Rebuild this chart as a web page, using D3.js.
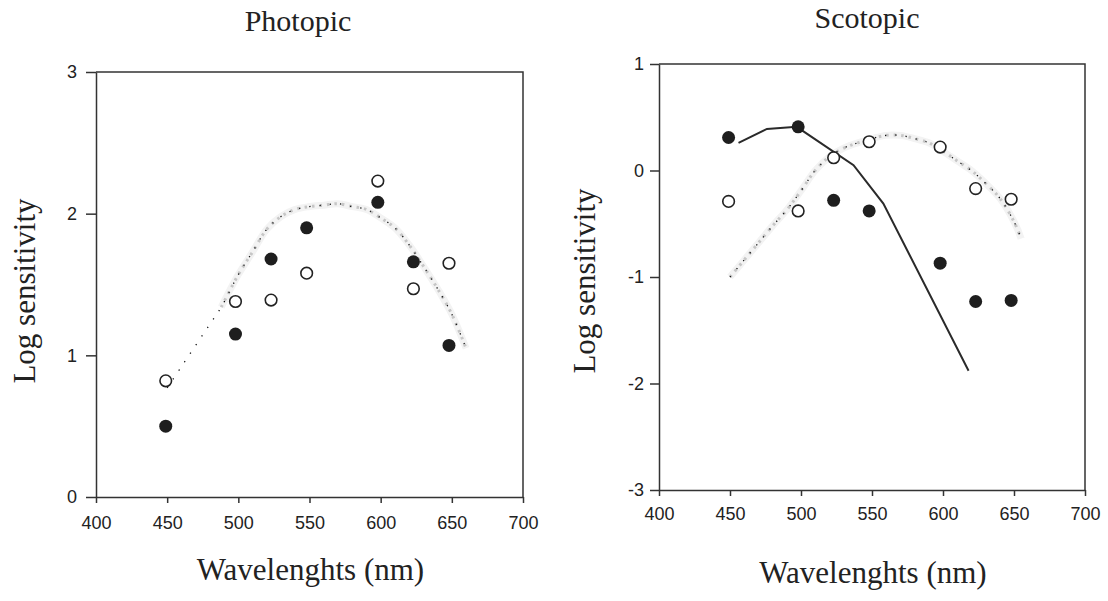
<!DOCTYPE html>
<html>
<head>
<meta charset="utf-8">
<script src="https://cdn.jsdelivr.net/npm/d3@7"></script>
<style>
  body { margin: 0; background: #fff; }
  .tick text { font-family: "Liberation Sans", Arial, sans-serif; font-size: 18px; fill: #222; }
  .tick line, .domain { stroke: #333; stroke-width: 1.5; }
  .serif { font-family: "Liberation Serif", "Times New Roman", serif; fill: #222; }
</style>
</head>
<body>
<svg id="chart" width="1108" height="601"></svg>
<script>
// measured wavelengths (nm) of the test points
var wavelengths = [449, 498, 523, 548, 598, 623, 648];

// photopic panel
var photopicFilled = [0.50, 1.15, 1.68, 1.90, 2.08, 1.66, 1.07];
var photopicOpen   = [0.82, 1.38, 1.39, 1.58, 2.23, 1.47, 1.65];
var photopicCurveNm = [450, 460, 470, 480, 488, 500, 510, 520, 530, 540, 550, 560, 570, 580, 590, 600, 610, 620, 630, 640, 650, 660];
var photopicCurve   = [0.77, 0.92, 1.07, 1.22, 1.34, 1.57, 1.73, 1.89, 1.98, 2.03, 2.05, 2.06, 2.07, 2.05, 2.03, 1.97, 1.90, 1.78, 1.63, 1.47, 1.29, 1.05];

// scotopic panel
var scotopicFilled = [0.31, 0.41, -0.28, -0.38, -0.87, -1.23, -1.22];
var scotopicOpen   = [-0.29, -0.38, 0.12, 0.27, 0.22, -0.17, -0.27];
var scotopicCurveNm = [450, 460, 470, 480, 490, 500, 510, 520, 530, 540, 550, 560, 570, 580, 590, 600, 610, 620, 630, 640, 650, 655];
var scotopicCurve   = [-1.00, -0.84, -0.68, -0.52, -0.37, -0.19, 0.00, 0.13, 0.21, 0.26, 0.30, 0.33, 0.33, 0.30, 0.26, 0.18, 0.09, 0.00, -0.12, -0.26, -0.48, -0.64];
var rodNm    = [456, 476, 497, 537, 558, 618];
var rodCurve = [0.26, 0.39, 0.41, 0.05, -0.31, -1.88];

var xTicks = [400, 450, 500, 550, 600, 650, 700];
var photopicTicks = [0, 1, 2, 3];
var scotopicTicks = [-3, -2, -1, 0, 1];

var svg = d3.select("#chart");

function zip(xs, ys) {
  return xs.map(function(v, i) { return [v, ys[i]]; });
}

function drawPanel(opt) {
  var x = d3.scaleLinear().domain([400, 700]).range(opt.xr);
  var y = d3.scaleLinear().domain(opt.yd).range(opt.yr);
  var g = svg.append("g");

  // frame: top and right sides
  g.append("path")
    .attr("d", "M" + opt.xr[0] + "," + opt.yr[1] + "H" + opt.xr[1] + "V" + opt.yr[0])
    .attr("fill", "none")
    .attr("stroke", "#333")
    .attr("stroke-width", 1.5);

  g.append("g")
    .attr("transform", "translate(0," + opt.yr[0] + ")")
    .call(d3.axisBottom(x).tickValues(xTicks).tickSize(6).tickSizeOuter(0).tickPadding(opt.xPad));

  g.append("g")
    .attr("transform", "translate(" + opt.xr[0] + ",0)")
    .call(d3.axisLeft(y).tickValues(opt.yTicks).tickSize(opt.ySize).tickSizeOuter(0).tickPadding(opt.yPad)
      .tickFormat(function(d) { return String(d); }));

  var line = d3.line()
    .x(function(d) { return x(d[0]); })
    .y(function(d) { return y(d[1]); })
    .curve(d3.curveCatmullRom);

  // grey dotted template curve
  var grey = zip(opt.curveNm, opt.curve).filter(function(d) { return d[0] >= opt.greyFrom; });
  g.append("path")
    .datum(grey)
    .attr("d", line)
    .attr("fill", "none")
    .attr("stroke", "#f3f3f3")
    .attr("stroke-width", 7);
  g.append("path")
    .datum(grey)
    .attr("d", line)
    .attr("fill", "none")
    .attr("stroke", "#c6c6c6")
    .attr("stroke-width", 3)
    .attr("stroke-dasharray", "2.5,5");
  // fine black dots on top
  g.append("path")
    .datum(zip(opt.curveNm, opt.curve))
    .attr("d", line)
    .attr("fill", "none")
    .attr("stroke", "#111")
    .attr("stroke-width", 1.3)
    .attr("stroke-dasharray", "1.3,9");

  if (opt.rod) {
    g.append("path")
      .datum(zip(rodNm, rodCurve))
      .attr("d", d3.line().x(function(d) { return x(d[0]); }).y(function(d) { return y(d[1]); }))
      .attr("fill", "none")
      .attr("stroke", "#2a2a2a")
      .attr("stroke-width", 2);
  }

  g.selectAll(".open")
    .data(zip(wavelengths, opt.open))
    .enter().append("circle")
    .attr("class", "open")
    .attr("cx", function(d) { return x(d[0]); })
    .attr("cy", function(d) { return y(d[1]); })
    .attr("r", 5.8)
    .attr("fill", "#fff")
    .attr("stroke", "#222")
    .attr("stroke-width", 1.6);

  g.selectAll(".filled")
    .data(zip(wavelengths, opt.filled))
    .enter().append("circle")
    .attr("class", "filled")
    .attr("cx", function(d) { return x(d[0]); })
    .attr("cy", function(d) { return y(d[1]); })
    .attr("r", 6.5)
    .attr("fill", "#1e1e1e");

  // texts
  g.append("text")
    .attr("class", "serif")
    .attr("x", opt.title[1]).attr("y", opt.title[2])
    .attr("text-anchor", "middle")
    .attr("font-size", "30px")
    .text(opt.title[0]);

  g.append("text")
    .attr("class", "serif")
    .attr("x", (opt.xr[0] + opt.xr[1]) / 2 + 1).attr("y", opt.xLabelY)
    .attr("text-anchor", "middle")
    .attr("font-size", "31px")
    .text("Wavelenghts (nm)");

  g.append("text")
    .attr("class", "serif")
    .attr("transform", "translate(" + opt.yLabel[0] + "," + opt.yLabel[1] + ") rotate(-90)")
    .attr("text-anchor", "middle")
    .attr("font-size", "31px")
    .text("Log sensitivity");
}

drawPanel({
  xr: [96, 523], yd: [0, 3], yr: [497, 72], yTicks: photopicTicks,
  ySize: 10, yPad: 9, xPad: 13,
  curveNm: photopicCurveNm, curve: photopicCurve, greyFrom: 488,
  filled: photopicFilled, open: photopicOpen, rod: false,
  title: ["Photopic", 298, 31], xLabelY: 580, yLabel: [35, 291]
});

drawPanel({
  xr: [659, 1085], yd: [-3, 1], yr: [490, 64], yTicks: scotopicTicks,
  ySize: 9, yPad: 6, xPad: 11,
  curveNm: scotopicCurveNm, curve: scotopicCurve, greyFrom: 450,
  filled: scotopicFilled, open: scotopicOpen, rod: true,
  title: ["Scotopic", 867, 28], xLabelY: 583, yLabel: [595, 281]
});
</script>
</body>
</html>
